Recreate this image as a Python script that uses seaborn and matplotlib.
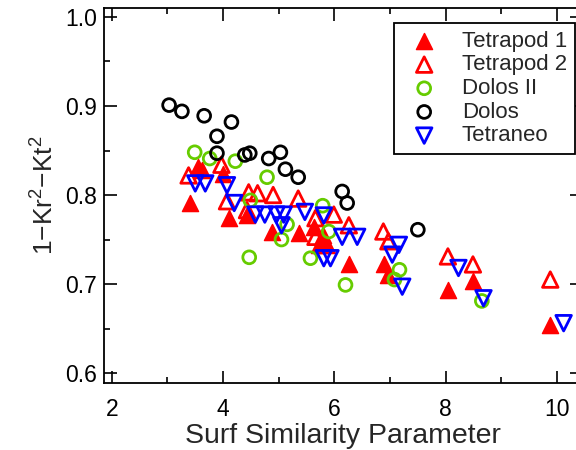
import numpy as np
import pandas as pd
import matplotlib
matplotlib.use("Agg")
import matplotlib.pyplot as plt
from matplotlib.ticker import MultipleLocator
import seaborn as sns

sns.set_theme(style="ticks")
plt.rcParams['font.family'] = ['Liberation Sans', 'DejaVu Sans']
plt.rcParams['mathtext.fontset'] = 'custom'
plt.rcParams['mathtext.rm'] = 'Liberation Sans'
plt.rcParams['mathtext.it'] = 'Liberation Sans'

# data
tetrapod1_x = [3.41, 3.55, 3.62, 4.00, 4.11, 4.43, 4.88, 5.36, 5.63, 5.72, 5.87, 5.80,
               6.26, 6.89, 6.97, 8.04, 8.49, 9.88]
tetrapod1_y = [0.791, 0.832, 0.828, 0.824, 0.774, 0.778, 0.759, 0.757, 0.764, 0.744, 0.744, 0.755,
               0.722, 0.723, 0.710, 0.693, 0.703, 0.654]

tetrapod2_x = [3.38, 3.97, 4.07, 4.46, 4.62, 4.90, 5.35, 4.43, 5.66, 5.99, 5.66, 6.26,
               6.88, 6.97, 8.04, 8.49, 9.88]
tetrapod2_y = [0.822, 0.834, 0.793, 0.803, 0.802, 0.800, 0.796, 0.783, 0.774, 0.778, 0.753, 0.766,
               0.759, 0.748, 0.731, 0.722, 0.705]

dolos2_x = [3.49, 3.76, 4.22, 4.79, 4.49, 4.47, 5.15, 5.05, 5.79, 5.90, 5.57, 6.20,
            7.17, 7.08, 8.65]
dolos2_y = [0.848, 0.841, 0.838, 0.820, 0.794, 0.730, 0.767, 0.750, 0.788, 0.759, 0.729, 0.699,
            0.716, 0.705, 0.681]

dolos_x = [3.03, 3.26, 3.66, 4.15, 3.89, 3.89, 4.39, 4.48, 4.82, 5.03, 5.12, 5.35,
           6.14, 6.23, 7.50]
dolos_y = [0.901, 0.894, 0.889, 0.882, 0.866, 0.847, 0.845, 0.847, 0.841, 0.848, 0.829, 0.820,
           0.804, 0.791, 0.761]

tetraneo_x = [3.50, 3.68, 4.07, 4.20, 4.58, 4.75, 4.96, 5.09, 5.05, 5.47, 5.81, 5.81,
              5.93, 6.14, 6.41, 7.16, 7.04, 7.22, 8.23, 8.68, 10.12]
tetraneo_y = [0.813, 0.813, 0.811, 0.791, 0.778, 0.778, 0.778, 0.778, 0.766, 0.781, 0.777, 0.729,
              0.729, 0.753, 0.753, 0.744, 0.733, 0.697, 0.718, 0.684, 0.656]

fig = plt.figure(figsize=(5.76, 4.5), dpi=100)
ax = fig.add_axes([104/576, 67/450, (582-104)/576, (383-8)/450])

# filled red triangles
sns.scatterplot(x=tetrapod1_x, y=tetrapod1_y, ax=ax, marker='^', s=135,
                color='#ff0000', edgecolor='#ff0000', linewidth=1, label='Tetrapod 1')
# open markers
sns.scatterplot(x=tetrapod2_x, y=tetrapod2_y, ax=ax, marker='^', s=125,
                facecolors='none', edgecolor='#ff0000', linewidth=2, label='Tetrapod 2')
sns.scatterplot(x=dolos2_x, y=dolos2_y, ax=ax, marker='o', s=85,
                facecolors='none', edgecolor='#66cc00', linewidth=2, label='Dolos II')
sns.scatterplot(x=dolos_x, y=dolos_y, ax=ax, marker='o', s=85,
                facecolors='none', edgecolor='black', linewidth=2, label='Dolos')
sns.scatterplot(x=tetraneo_x, y=tetraneo_y, ax=ax, marker='v', s=125,
                facecolors='none', edgecolor='#0000ff', linewidth=2, label='Tetraneo')

ax.set_xlim(1.86, 10.45)
ax.set_ylim(0.5888, 1.0101)
ax.xaxis.set_major_locator(MultipleLocator(2))
ax.xaxis.set_minor_locator(MultipleLocator(1))
ax.yaxis.set_major_locator(MultipleLocator(0.1))
ax.yaxis.set_minor_locator(MultipleLocator(0.05))
ax.yaxis.set_major_formatter(matplotlib.ticker.FormatStrFormatter('%.1f'))

for sp in ax.spines.values():
    sp.set_visible(True)
    sp.set_linewidth(1.3)
    sp.set_color('black')
ax.tick_params(which='both', direction='in', top=True, right=True, width=1.2, colors='black',
               labelsize=16.5)
ax.tick_params(which='major', length=9)
ax.tick_params(which='minor', length=4.5)
ax.tick_params(axis='x', which='major', pad=11)
ax.tick_params(axis='y', which='major', pad=5)

ax.set_xlabel('Surf Similarity Parameter', fontsize=20.5, labelpad=1)
ax.set_ylabel(r'1$-$Kr$^2$$-$Kt$^2$', fontsize=19, labelpad=5)

leg = ax.legend(loc='upper right', bbox_to_anchor=(575/576, 1 - 23/450),
                bbox_transform=fig.transFigure, borderaxespad=0, fontsize=16,
                frameon=True, fancybox=False, edgecolor='black', framealpha=1,
                handletextpad=0.7, labelspacing=0.12, borderpad=0.35, handlelength=2.0)
leg.get_frame().set_linewidth(1.3)

fig.savefig('out.png', dpi=100)
